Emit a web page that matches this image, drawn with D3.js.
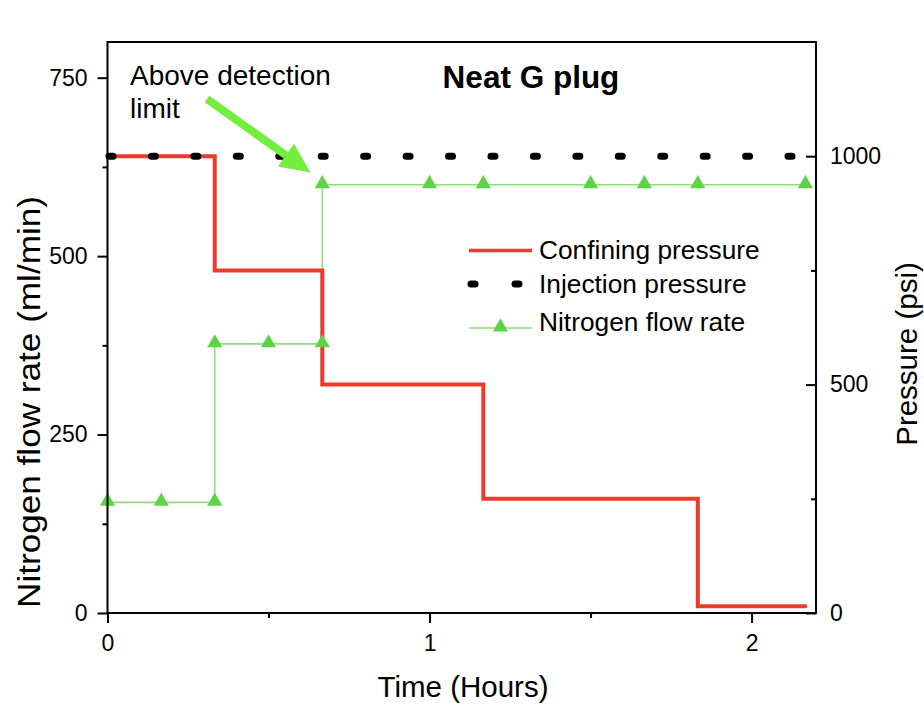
<!DOCTYPE html>
<html>
<head>
<meta charset="utf-8">
<script src="https://cdn.jsdelivr.net/npm/d3@7"></script>
<style>
  html, body { margin: 0; padding: 0; background: #fff; }
  svg { display: block; font-family: "Liberation Sans", Arial, Helvetica, sans-serif; }
</style>
</head>
<body>
<svg id="chart" width="924" height="704"></svg>
<script>
// Step times (hours) and levels
const confiningTimes = [0, 0.333, 0.333, 0.667, 0.667, 1.167, 1.167, 1.833, 1.833, 2.167];
const confiningPsi   = [1000, 1000, 750, 750, 500, 500, 250, 250, 15, 15];

const injectionTimes = [0, 2.167];
const injectionPsi   = [1000, 1000];

const flowTimes = [0, 0.167, 0.333, 0.333, 0.5, 0.667, 0.667, 1.0, 1.167, 1.5, 1.667, 1.833, 2.167];
const flowRates = [155, 155, 155, 377, 377, 377, 600, 600, 600, 600, 600, 600, 600];

const xTicks = [0, 1, 2];
const xMinorTicks = [0.5, 1.5];
const leftTicks = [0, 250, 500, 750];
const leftMinorTicks = [125, 375, 625];
const rightTicks = [0, 500, 1000];
const rightMinorTicks = [250, 750];

const legendLabels = ["Confining pressure", "Injection pressure", "Nitrogen flow rate"];

const svg = d3.select("#chart");
const margin = { left: 107.5, right: 108, top: 42, bottom: 91 };
const W = 924, H = 704;
const x0 = margin.left, x1 = W - margin.right, y0 = H - margin.bottom, y1 = margin.top;

const x = d3.scaleLinear().domain([0, 2.2]).range([x0, x1]);
const yFlow = d3.scaleLinear().domain([0, 800]).range([y0, y1]);
const yPsi = d3.scaleLinear().domain([0, 1250]).range([y0, y1]);

const RED = "#ec3a2c", GREEN_LINE = "#8fe07a", GREEN = "#5fd346", ARROW = "#74ee3e";

// plotted series
const line = (ys) => d3.line().x(d => x(d[0])).y(d => ys(d[1]));

const confining = confiningTimes.map((t, i) => [t, confiningPsi[i]]);
const injection = injectionTimes.map((t, i) => [t, injectionPsi[i]]);
const flow = flowTimes.map((t, i) => [t, flowRates[i]]);

svg.append("path").datum(flow)
  .attr("d", line(yFlow)).attr("fill", "none")
  .attr("stroke", GREEN_LINE).attr("stroke-width", 1.6);

svg.append("path").datum(confining)
  .attr("d", line(yPsi)).attr("fill", "none")
  .attr("stroke", RED).attr("stroke-width", 4)
  .attr("stroke-linejoin", "miter").attr("stroke-linecap", "round");

svg.append("path").datum(injection)
  .attr("d", line(yPsi)).attr("fill", "none")
  .attr("stroke", "#000").attr("stroke-width", 7)
  .attr("stroke-linecap", "round")
  .attr("stroke-dasharray", "4 38.44")
  .attr("stroke-dashoffset", -1.5);

const tri = d3.symbol().type(d3.symbolTriangle).size(100);
svg.append("g").selectAll("path").data(flow).join("path")
  .attr("d", tri)
  .attr("transform", d => `translate(${x(d[0])},${yFlow(d[1]) - 1})`)
  .attr("fill", GREEN);

// frame
svg.append("rect").attr("x", x0).attr("y", y1)
  .attr("width", x1 - x0).attr("height", y0 - y1)
  .attr("fill", "none").attr("stroke", "#000").attr("stroke-width", 2);

// axes
const tickFont = 23;
const gx = svg.append("g").attr("transform", `translate(0,${y0})`);
gx.call(d3.axisBottom(x).tickValues(xTicks).tickFormat(d3.format("d")).tickSize(10).tickPadding(12));
gx.append("g").call(d3.axisBottom(x).tickValues(xMinorTicks).tickFormat("").tickSize(5));

const gl = svg.append("g").attr("transform", `translate(${x0},0)`);
gl.call(d3.axisLeft(yFlow).tickValues(leftTicks).tickFormat(d3.format("d")).tickSize(10).tickPadding(10));
gl.append("g").call(d3.axisLeft(yFlow).tickValues(leftMinorTicks).tickFormat("").tickSize(5));

const gr = svg.append("g").attr("transform", `translate(${x1},0)`);
gr.call(d3.axisRight(yPsi).tickValues(rightTicks).tickFormat(d3.format("d")).tickSize(-10).tickPadding(14));
gr.append("g").call(d3.axisRight(yPsi).tickValues(rightMinorTicks).tickFormat("").tickSize(-5));

[gx, gl, gr].forEach(g => {
  g.selectAll(".domain").remove();
  g.selectAll("line").attr("stroke", "#000").attr("stroke-width", 2);
  g.selectAll("text").attr("font-size", tickFont).attr("fill", "#000")
    .attr("font-family", "'Liberation Sans', Arial, sans-serif");
});

// axis titles
svg.append("text").attr("x", 463).attr("y", 697)
  .attr("text-anchor", "middle").attr("font-size", 29.5).text("Time (Hours)");
svg.append("text")
  .attr("transform", `translate(40,402) rotate(-90)`)
  .attr("text-anchor", "middle").attr("font-size", 31)
  .attr("textLength", 412).attr("lengthAdjust", "spacingAndGlyphs")
  .text("Nitrogen flow rate (ml/min)");
svg.append("text")
  .attr("transform", `translate(917,354) rotate(-90)`)
  .attr("text-anchor", "middle").attr("font-size", 29.5).text("Pressure (psi)");

// title
svg.append("text").attr("x", 531).attr("y", 88)
  .attr("text-anchor", "middle").attr("font-size", 31.5).attr("font-weight", "bold")
  .text("Neat G plug");

// annotation pointing at the first above-limit reading
const note = svg.append("text").attr("x", 130).attr("y", 85).attr("font-size", 28);
note.append("tspan").attr("x", 130).text("Above detection");
note.append("tspan").attr("x", 130).attr("dy", 33).text("limit");

const tipX = x(0.63), tipY = yFlow(617);
const tailX = 207, tailY = 99;
const ang = Math.atan2(tipY - tailY, tipX - tailX);
const headLen = 30, headHalf = 14;
const bx = tipX - headLen * Math.cos(ang), by = tipY - headLen * Math.sin(ang);
svg.append("line").attr("x1", tailX).attr("y1", tailY).attr("x2", bx).attr("y2", by)
  .attr("stroke", ARROW).attr("stroke-width", 8);
svg.append("path")
  .attr("d", `M${tipX},${tipY}L${bx + headHalf * Math.sin(ang)},${by - headHalf * Math.cos(ang)}L${bx - headHalf * Math.sin(ang)},${by + headHalf * Math.cos(ang)}Z`)
  .attr("fill", ARROW);

// legend
const lg = svg.append("g");
const lx0 = 469, lx1 = 532, ltx = 539;
const rows = [250.5, 284, 328];
const textBase = [259, 293, 331];
lg.append("line").attr("x1", lx0).attr("x2", lx1).attr("y1", rows[0]).attr("y2", rows[0])
  .attr("stroke", RED).attr("stroke-width", 3.5);
lg.append("line").attr("x1", 471).attr("x2", 520).attr("y1", rows[1]).attr("y2", rows[1])
  .attr("stroke", "#000").attr("stroke-width", 7).attr("stroke-linecap", "round")
  .attr("stroke-dasharray", "4 40");
lg.append("line").attr("x1", lx0).attr("x2", lx1).attr("y1", rows[2]).attr("y2", rows[2])
  .attr("stroke", GREEN_LINE).attr("stroke-width", 1.6);
lg.append("path").attr("d", tri).attr("transform", `translate(${(lx0 + lx1) / 2},${rows[2] - 1})`)
  .attr("fill", GREEN);
legendLabels.forEach((t, i) => {
  lg.append("text").attr("x", ltx).attr("y", textBase[i]).attr("font-size", 26.3).text(t);
});
</script>
</body>
</html>
